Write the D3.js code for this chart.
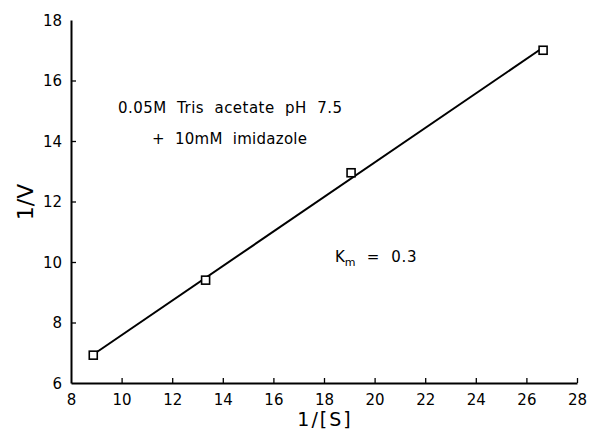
<!DOCTYPE html>
<html>
<head>
<meta charset="utf-8">
<script src="https://cdn.jsdelivr.net/npm/d3@7"></script>
<style>
  body { margin: 0; background: #fff; }
  text, tspan { font-family: "DejaVu Sans", sans-serif; fill: #000; white-space: pre; }
</style>
</head>
<body>
<script>
// Data
const invS = [8.88, 13.32, 19.07, 26.66];
const invV = [6.92, 9.40, 12.95, 17.0];
const xTicks = [8, 10, 12, 14, 16, 18, 20, 22, 24, 26, 28];
const yTicks = [6, 8, 10, 12, 14, 16, 18];
const notes = ["0.05M  Tris  acetate  pH  7.5", "+  10mM  imidazole"];

const width = 589, height = 432;
const svg = d3.select("body").append("svg")
    .attr("width", width)
    .attr("height", height);

// Scales
const x = d3.scaleLinear().domain([8, 28]).range([71, 577]);
const y = d3.scaleLinear().domain([6, 18]).range([383, 20]);

// Least-squares line through the points
const mx = d3.mean(invS), my = d3.mean(invV);
const slope = d3.sum(invS, (d, i) => (d - mx) * (invV[i] - my)) /
              d3.sum(invS, d => (d - mx) * (d - mx));
const icpt = my - slope * mx;

// Axes
const xAxis = d3.axisBottom(x).tickValues(xTicks).tickSizeInner(-5).tickSizeOuter(0).tickPadding(11);
const yAxis = d3.axisLeft(y).tickValues(yTicks).tickSizeInner(-5).tickSizeOuter(0).tickPadding(9);

const gx = svg.append("g")
    .attr("transform", "translate(0," + y(6) + ")")
    .call(xAxis);
const gy = svg.append("g")
    .attr("transform", "translate(" + x(8) + ",0)")
    .call(yAxis);

[gx, gy].forEach(g => {
  g.select(".domain").attr("stroke", "#000").attr("stroke-width", 2);
  g.selectAll(".tick line").attr("stroke", "#000").attr("stroke-width", 1.3);
  g.selectAll(".tick text").attr("font-size", 15).attr("font-family", "DejaVu Sans, sans-serif").attr("fill", "#000");
});
gx.selectAll(".tick line").filter(d => d === 8).remove();
gy.selectAll(".tick line").filter(d => d === 6 || d === 18).remove();
gy.selectAll(".tick text").attr("dy", "0.36em");

// Fit line
const xs = d3.extent(invS);
svg.append("line")
    .attr("x1", x(xs[0])).attr("y1", y(icpt + slope * xs[0]))
    .attr("x2", x(xs[1])).attr("y2", y(icpt + slope * xs[1]))
    .attr("stroke", "#000")
    .attr("stroke-width", 2);

// Square markers
svg.selectAll("rect.pt")
    .data(invS)
    .enter().append("rect")
    .attr("class", "pt")
    .attr("x", d => x(d) - 4)
    .attr("y", (d, i) => y(invV[i]) - 4)
    .attr("width", 8)
    .attr("height", 8)
    .attr("fill", "#fff")
    .attr("stroke", "#000")
    .attr("stroke-width", 1.6);

// Axis titles
svg.append("text")
    .attr("x", 325).attr("y", 426)
    .attr("text-anchor", "middle")
    .attr("font-size", 19)
    .attr("letter-spacing", 2)
    .text("1/[S]");

svg.append("text")
    .attr("transform", "translate(33,202) rotate(-90)")
    .attr("text-anchor", "middle")
    .attr("font-size", 22)
    .text("1/V");

// Annotations
svg.append("text")
    .attr("x", 118).attr("y", 113)
    .attr("font-size", 15)
    .attr("textLength", 224)
    .attr("lengthAdjust", "spacing")
    .text(notes[0]);
svg.append("text")
    .attr("x", 152).attr("y", 144)
    .attr("font-size", 15)
    .attr("textLength", 155)
    .attr("lengthAdjust", "spacing")
    .text(notes[1]);

const km = svg.append("text")
    .attr("x", 335).attr("y", 262)
    .attr("font-size", 15)
    .attr("fill", "#000");
km.append("tspan").attr("fill", "#000").text("K");
km.append("tspan").attr("fill", "#000").attr("font-size", 11).attr("dy", 4).text("m");
km.append("tspan").attr("fill", "#000").attr("dy", -4).attr("letter-spacing", 0.8).text("  =  0.3");
</script>
</body>
</html>
